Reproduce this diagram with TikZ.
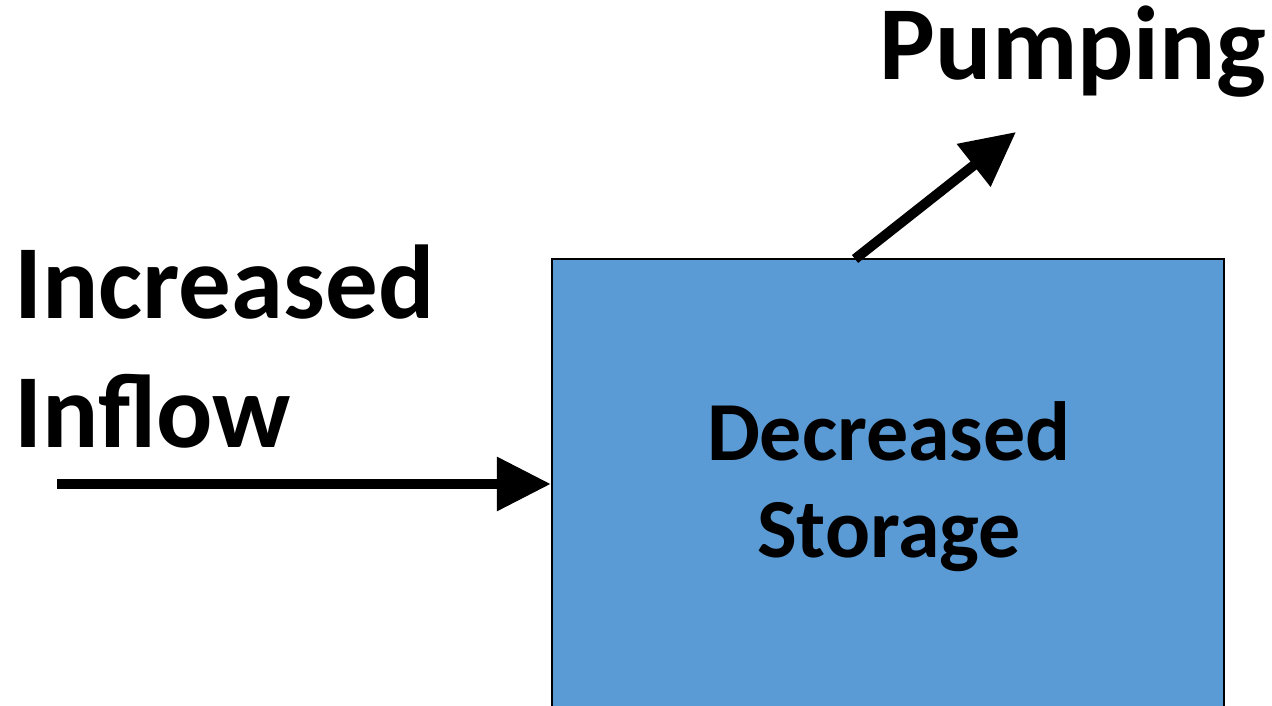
\documentclass[tikz,border=0pt]{standalone}
\usepackage{fontspec}
\setmainfont{Carlito}
\usetikzlibrary{arrows.meta}
\definecolor{storeblue}{HTML}{5B9BD5}
\tikzset{
  x=1pt, y=1pt,
  bigtext/.style={inner sep=0pt, font=\bfseries\fontsize{105}{129}\selectfont},
  boxtext/.style={inner sep=0pt, font=\bfseries\fontsize{84}{97}\selectfont},
  flow/.style={line width=10pt, -{Triangle[length=54pt,width=52pt]}},
  storebox/.style={draw=black, line width=2.5pt, fill=storeblue, inner sep=0pt}
}
\begin{document}
\begin{tikzpicture}
\useasboundingbox (0,0) rectangle (1272,706);
\clip (0,0) rectangle (1272,706);
% storage tank
\node[storebox, minimum width=672pt, minimum height=480pt] (store) at (888,207) {};
\node[boxtext, anchor=base] (lab1) at (889,245) {Decreased};
\node[boxtext, anchor=base] (lab2) at (889,148) {Storage};
% inflow
\node[bigtext, anchor=base west] (in1) at (14,387) {Increased};
\node[bigtext, anchor=base west] (in2) at (14,258) {Inflow};
\coordinate (instart) at (57,222);
\draw[flow] (instart) -- (store.west |- instart);
% pumping
\node[bigtext, anchor=base east] (pump) at (1266,626) {Pumping};
\coordinate (pumpstart) at (855,447);
\coordinate (pumpend) at (1016,574);
\draw[flow] (pumpstart) -- (pumpend);
\end{tikzpicture}
\end{document}
